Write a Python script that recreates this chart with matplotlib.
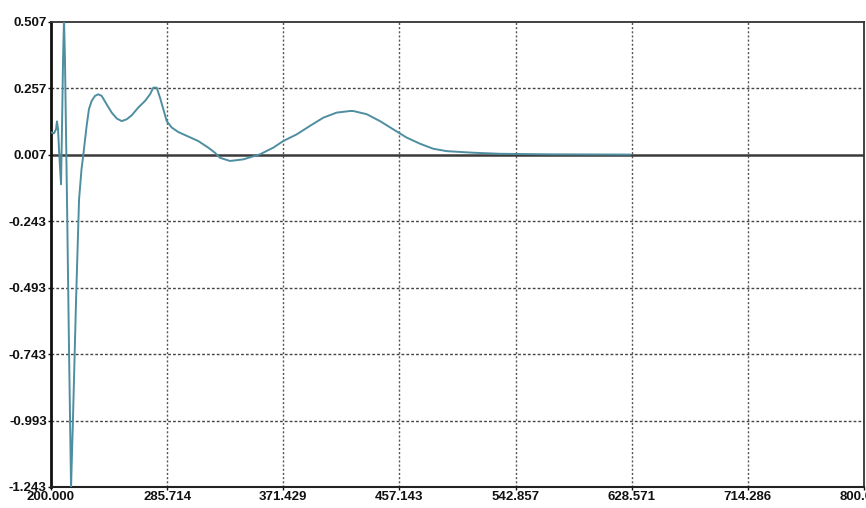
import matplotlib
matplotlib.use("Agg")
import matplotlib.pyplot as plt

# Data
x_vals = [200.0, 202.2, 203.7, 204.4, 205.2, 205.9, 207.4, 208.1, 208.9, 209.6,
          210.3, 211.8, 213.3, 214.8, 216.2, 218.5, 220.7, 222.5, 223.8, 226.3,
          228.0, 230.0, 232.5, 234.9, 237.4, 241.1, 244.8, 248.5, 252.2, 255.9,
          259.6, 264.4, 269.4, 273.1, 275.5, 278.0, 280.4, 282.9, 285.4, 289.1,
          293.9, 301.3, 308.7, 316.1, 321.0, 324.7, 332.1, 341.9, 354.2, 364.0,
          371.4, 381.3, 391.1, 401.0, 410.8, 420.7, 423.1, 433.0, 442.8, 452.6,
          462.5, 472.3, 482.1, 492.0, 501.8, 511.7, 531.4, 568.3, 627.3]
y_vals = [0.092, 0.088, 0.103, 0.133, 0.103, 0.028, -0.104, 0.103, 0.367, 0.52,
          0.367, -0.161, -0.727, -1.243, -0.99, -0.538, -0.161, -0.048, 0.005, 0.116,
          0.179, 0.210, 0.229, 0.235, 0.229, 0.197, 0.166, 0.144, 0.134, 0.141,
          0.156, 0.185, 0.210, 0.235, 0.260, 0.260, 0.223, 0.179, 0.134, 0.110,
          0.093, 0.076, 0.059, 0.034, 0.015, -0.004, -0.016, -0.010, 0.009, 0.034,
          0.059, 0.084, 0.116, 0.147, 0.166, 0.172, 0.172, 0.160, 0.134, 0.103,
          0.072, 0.049, 0.030, 0.021, 0.018, 0.015, 0.011, 0.009, 0.008]

x_ticks = [200.000, 285.714, 371.429, 457.143, 542.857, 628.571, 714.286, 800.000]
x_labels = ["200.000", "285.714", "371.429", "457.143", "542.857", "628.571", "714.286", "800.000"]
y_ticks = [0.507, 0.257, 0.007, -0.243, -0.493, -0.743, -0.993, -1.243]
y_labels = ["0.507", "0.257", "0.007", "-0.243", "-0.493", "-0.743", "-0.993", "-1.243"]
baseline = 0.007

fig = plt.figure(figsize=(8.66, 5.08), dpi=100)
ax = fig.add_axes([51/866, 21/508, 813/866, 465/508])

font = dict(family=['Liberation Sans Narrow', 'Liberation Sans', 'DejaVu Sans'],
            weight='bold', size=9.5)

ax.set_xlim(200, 800)
ax.set_ylim(-1.243, 0.507)

for xt in x_ticks[1:-1]:
    ax.axvline(xt, color='#555555', lw=1.0, ls=(0, (1.5, 1.5)), zorder=1)
for yt in y_ticks[1:-1]:
    if yt == baseline:
        continue
    ax.axhline(yt, color='#444444', lw=1.0, ls=(0, (2, 1.5)), zorder=1)

ax.axhline(baseline, color='#3a3a3a', lw=1.8, zorder=2)
ax.plot(x_vals, y_vals, color='#4f8ea0', lw=1.4, zorder=3, clip_on=True,
        solid_joinstyle='round')

ax.set_xticks(x_ticks)
ax.set_xticklabels(x_labels, **font)
ax.set_yticks(y_ticks)
ax.set_yticklabels(y_labels, **font)
ax.tick_params(axis='both', length=2, width=1, pad=1, colors='#111111')

ax.spines['left'].set_linewidth(2.0)
ax.spines['left'].set_color('#111111')
ax.spines['bottom'].set_linewidth(1.5)
ax.spines['bottom'].set_color('#222222')
ax.spines['top'].set_linewidth(1.3)
ax.spines['top'].set_color('#333333')
ax.spines['right'].set_linewidth(1.3)
ax.spines['right'].set_color('#333333')

fig.savefig("out.png", dpi=100)
